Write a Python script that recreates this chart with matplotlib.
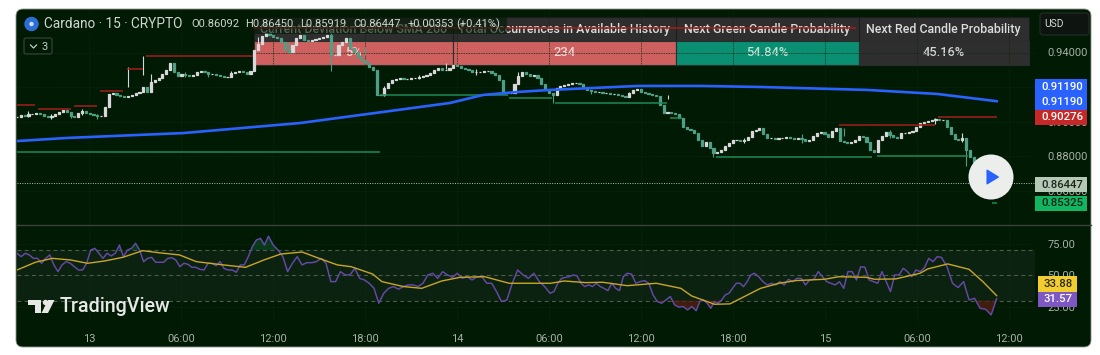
import numpy as np
import matplotlib
matplotlib.use("Agg")
import matplotlib.pyplot as plt
from matplotlib.patches import FancyBboxPatch, Rectangle, Circle, Polygon

plt.rcParams['font.family'] = ['Roboto', 'DejaVu Sans']

W, H = 1100, 355
# ---------- data ----------
closes = [
 .9028,.9039,.9034,.9045,.9045,.9051,.9045,.9034,.9028,.9034,.9045,.9057,.9068,.9057,.9034,.9028,.9051,.9063,
 .9051,.9045,.9039,.9034,.9034,.9086,.9161,.9166,.9155,.9149,.9143,.9149,
 .9155,.9166,.9172,.9201,.9172,.9230,.9241,.9253,.9276,
 .9299,.9339,.9288,.9264,.9276,.9270,.9264,.9270,.9288,.9293,.9288,.9276,.9276,.9270,.9264,.9259,.9259,.9282,.9288,.9293,.9288,.9276,.9293,
 .9414,.9449,.9495,.9513,.9501,.9490,.9484,.9461,.9414,.9403,.9443,.9484,.9501,.9472,.9466,.9472,.9478,.9484,.9490,.9501,.9386,.9386,.9443,.9461,.9484,.9426,.9403,.9374,.9357,.9339,.9316,.9299,.9155,
 .9155,.9195,.9224,.9241,.9247,.9253,.9247,.9247,.9253,.9253,.9259,.9264,.9270,.9282,.9299,.9311,.9299,.9299,.9311,.9328,.9322,.9311,.9305,.9299,.9288,.9288,.9288,.9293,.9293,.9282,.9270,.9241,.9166,
 .9166,.9166,.9218,.9264,.9288,.9276,.9264,.9270,.9253,.9218,.9184,.9166,.9155,.9195,.9207,.9213,.9218,.9224,.9224,.9218,.9201,.9184,.9178,.9172,.9172,.9166,.9166,.9161,.9161,.9155,.9149,.9143,.9166,.9184,.9189,.9172,.9166,.9161,.9155,.9149,.9097,.9051,.9057,.9051,.9045,.9022,.8970,.8959,.8953,.8936,.8895,.8861,
 .8884,.8849,.8820,.8826,.8838,.8861,.8878,.8895,.8895,.8889,.8895,.8913,.8947,.8953,.8964,.8930,.8907,.8907,.8901,.8907,.8907,.8913,.8907,.8901,.8907,.8901,.8889,.8895,.8918,.8936,.8941,.8930,.8913,.8947,.8964,.8889,.8884,.8878,.8884,.8895,.8918,.8913,.8884,.8838,.8826,.8895,.8918,.8941,.8924,.8913,.8907,.8936,.8936,.8941,.8947,.8970,.8993,.8999,.9005,.9011,.9016,.9011,.9011,.8970,.8930,.8901,.8895,.8907,.8838,.8797,.8768,.8745,.8711,.8676,.8630,.8607,.86447,
]
wick_idx = [3, 9, 14, 17, 21, 29, 33, 35, 44, 50, 56, 63, 71, 82, 91, 96, 105, 112, 120, 131, 140, 150, 160, 170, 182, 190, 205, 216, 228, 240, 247, 248, 253]
wick_high = [.9062, .9045, .9051, .9074, .9045, .9316, .9380, .9276, .9288, .9288, .9293, .9490, .9461, .9530, .9432, .9207, .9270, .9340, .9305, .9288, .9166, .9184, .9172, .9155, .8820, .8907, .8930, .8964, .8950, .9022, .8936, .8895, .8700]
wick_low = [.9028, .9016, .9022, .9040, .9016, .9201, .9270, .9230, .9259, .9259, .9264, .9440, .9400, .9293, .9386, .9150, .9247, .9305, .9270, .9260, .9109, .9160, .9150, .9130, .8797, .8880, .8880, .8918, .8905, .8985, .8884, .8745, .85919]

sma_hours = [-4.7, -1.43, 6.13, 13.76, 19.18, 23.55, 25.7, 27.9, 30.07, 35.8, 39.9, 43.8, 50.75, 55.3, 59.2]
sma_values = [.8889, .8907, .8935, .8993, .9057, .9109, .9155, .9172, .9184, .9207, .9207, .9201, .9184, .9161, .9119]

pivot_high = [(-4.7, -3.5, .9097), (-3.3, -1.2, .9074), (-1.0, .5, .9091), (.7, 2.2, .9178),
              (2.5, 3.5, .9305), (3.7, 10.7, .9380), (10.7, 50.0, .9541), (48.9, 55.2, .8979), (55.4, 59.2, .90276)]
pivot_low = [(-4.7, 19.0, .8826), (19.0, 27.3, .9155), (27.4, 30.2, .9138), (30.4, 37.7, .9109),
             (37.9, 38.7, .9022), (40.9, 51.1, .8797), (51.4, 57.3, .8800), (58.9, 59.2, .85325)]

rsi_segments = [
 (-4.7, 1.98, [67.4,64.7,67.4,66.1,63.4,63.4,59.5,63.4,66.1,58.2,52.9,58.2,60.8,59.5,56.8,54.2,54.2,59.5,70,71.3,67.4,63.4,67.4,65.3,67.4,73.9]),
 (1.98, 11.7, [64.7,70,71.3,75.3,70,60.8,63.4,64.2,60.3,60.3,60.3,63.4,63.9,62.1,56.8,59.5,58.7,56.3,56.3,54.7,54.2,59.5,59.5,57.6,60.8,55.3,54.2,54.2,52.4,58.2,58.2,64.7,72.6,77.9,79.2,73.9,80.9]),
 (11.7, 18.9, [73.9,70,64.7,52.9,59.5,64.7,58.2,60,60,60.8,63.4,59.5,45,45,52.9,50.3,50.3,55.5,47.6,46.3,43.7,39.7,27.9]),
 (18.9, 26.9, [35.8,39.7,41.1,39,41.1,42.4,42.4,41.1,43.7,50.3,51.6,47.6,52.9,50.3,48.4,51.6,47.6,48.9,46.3,48.9,48.9,43.7,43.7,37.1,29.2]),
 (26.9, 30.07, [30.5,43.7,54.2,50.3,47.6,51.6,45,41.1,35.8]),
 (30.07, 35.1, [37.1,43.7,47.6,48.4,48.9,50.3,49.5,43.7,41.1,42.4,41.1,43.7,41.1,39.7,37.9,43.7,39.7,37.9,48.9,51.6]),
 (35.1, 39.6, [51,43.7,45,45.8,43.7,34.5,29.2,27.9,30.5,33.2,26.6,24.8,25.3,22.6,25.3,22]),
 (39.6, 43.4, [29.2,30.5,27.9,23.9,29.2,27.9,30.5,34.5,35.8,39.7,43.7,43.7,41.1,45,50.3,51.6]),
 (43.4, 55.6, [48.9,45,42.4,43.7,42.4,45,42.4,46.8,45,47.6,47.6,42.4,46.3,46.8,52.9,48.9,45,43.7,42.4,45,39.7,52.9,52.9,46.3,56.8,56.3,46.3,45,43.7,52.9,45,37.1,50.3,50.3,55.5,52.9,48.9,54.2,52.9,56,63.4,60.8,64.7,64.2]),
 (55.6, 59.2, [56.8,43.7,40.3,45,30.5,31.8,23.9,23.1,18.7,31.57]),
]
ma_hours = [-4.7,-3.5,-2.4,-1.2,-.1,1,2.2,3.5,4.5,5.9,7,8.4,10.2,11.4,12.5,13.9,15,16.2,17.1,18.5,19.1,20.5,21.7,23,24.2,25.8,27.4,29.2,
            30.1,31,32.4,33.5,35.1,37,38.6,39.3,40.8,41.8,43.8,45,46.1,48,48.9,50.7,51.2,52.6,54.2,54.7,56,57.4,58.3,59.2]
ma_values = [54.2,60.3,63.4,62.1,59.5,61.3,64.2,69.5,67.9,66.1,60.8,58.7,56.3,62.1,66.8,68.4,63.4,58.2,56.8,51,45,41.1,39.7,45.5,48.4,48.9,43.7,43.7,
             43.7,45.5,44.2,44.5,41.8,43.7,39.7,33.7,27.1,27.4,39.7,43.7,45.8,46.9,48.9,48.4,46.9,47.1,51.6,55,59,54.7,45,33.88]

time_ticks = [0, 6, 12, 18, 24, 30, 36, 42, 48, 54, 60]
time_labels = ['13', '06:00', '12:00', '18:00', '14', '06:00', '12:00', '18:00', '15', '06:00', '12:00']
price_ticks = [.86, .88, .90, .92, .94]
rsi_ticks = [25, 50, 75]
table_headers = ['Current Deviation Below SMA 200', 'Total Occurrences in Available History',
                 'Next Green Candle Probability', 'Next Red Candle Probability']
table_values = ['5%', '234', '54.84%', '45.16%']
ohlc_labels = ['O0.86092', 'H0.86450', 'L0.85919', 'C0.86447', '+0.00353', '(+0.41%)']

# ---------- colours ----------
BG = '#011a04'; GRID = '#0b2a10'; TXT = '#a8b0a8'
UP = '#d8d8d8'; DOWN = '#4f9f85'
RED = '#a51d1d'; GREEN = '#1d8a55'; BLUE = '#2962ff'

fig = plt.figure(figsize=(W/100, H/100), dpi=100, facecolor='white')

def px_axes(x0, y0, x1, y1):
    return fig.add_axes([x0/W, 1-y1/H, (x1-x0)/W, (y1-y0)/H])

bg = fig.add_axes([0, 0, 1, 1]); bg.set_xlim(0, W); bg.set_ylim(H, 0); bg.axis('off')
bg.add_patch(FancyBboxPatch((20, 13), 1067, 330, boxstyle='round,pad=4,rounding_size=7',
                            fc=BG, ec='#8a948a', lw=0.6))
# table
cols = [253.5, 453, 675.5, 858.5, 1029]
row_y = [17, 41, 65]
fills = ['#cf6060', '#cf6060', '#0a8f73', '#2e2e2e']
vcol = ['#f3d6d6', '#f3d6d6', '#b9e2d4', '#d4d4d4']
for i in range(4):
    bg.add_patch(Rectangle((cols[i], row_y[0]), cols[i+1]-cols[i], 24, fc='#2e2e2e', ec='#1c1c1c', lw=0.8))
    bg.add_patch(Rectangle((cols[i], row_y[1]), cols[i+1]-cols[i], 24, fc=fills[i], ec='#26302a', lw=0.8))
    xc = (cols[i]+cols[i+1])/2
    bg.text(xc, 29.5, table_headers[i], ha='center', va='center', fontsize=8.9, color='#dcdcdc', fontweight='medium')
    bg.text(xc, 53, table_values[i], ha='center', va='center', fontsize=9.3, color=vcol[i], fontweight='medium')

# ---------- price pane ----------
ax = px_axes(17, 10, 1035, 225)
ax.patch.set_alpha(0); ax.set_zorder(1)
ax.set_xlim(-4.7, 61.7)
ax.set_ylim(.94-(225-52.5)/1733, .94+(52.5-10)/1733)
c = np.array(closes)
t = np.linspace(-4.7, 59.2, len(c))
o = np.r_[c[0], c[:-1]]
up = c >= o
for hi, lo, k in zip(wick_high, wick_low, wick_idx):
    ax.vlines(t[k], lo, hi, color=UP if up[k] else DOWN, lw=0.8, zorder=3)
ax.bar(t[up], (c-o)[up], bottom=o[up], width=.14, color=UP, ec=UP, lw=.9, zorder=4)
ax.bar(t[~up], (o-c)[~up], bottom=c[~up], width=.14, color=DOWN, ec=DOWN, lw=.9, zorder=4)
for a, b, p in pivot_high:
    ax.plot([a, b], [p, p], color=RED, lw=1.1, zorder=5, solid_capstyle='butt')
for a, b, p in pivot_low:
    ax.plot([a, b], [p, p], color=GREEN, lw=1.1, zorder=5, solid_capstyle='butt')
ax.plot(sma_hours, sma_values, color=BLUE, lw=1.9, zorder=6)
ax.axhline(closes[-1], color='#b5bdb5', lw=0.7, ls=(0, (1, 1.5)), zorder=2)
ax.set_yticks(price_ticks); ax.set_yticklabels([f'{v:.5f}' for v in price_ticks])
ax.yaxis.tick_right()
ax.set_xticks(time_ticks); ax.tick_params(axis='x', labelbottom=False, length=0)
ax.tick_params(axis='y', length=0, pad=9, labelsize=8, labelcolor=TXT)
ax.grid(True, color=GRID, lw=0.6, ls=(0, (1, 1)))
ax.set_axisbelow(True)
for s in ax.spines.values():
    s.set_visible(False)

# ---------- RSI pane ----------
rx = px_axes(17, 226, 1035, 323)
rx.patch.set_alpha(0); rx.set_zorder(1)
rx.set_xlim(-4.7, 61.7)
rx.set_ylim(70-(323-250)/1.265, 70+(250-226)/1.265)
rx.axhspan(30, 70, color='#1c2f22', alpha=.42, lw=0, zorder=1)
for lv in (70, 50, 30):
    rx.axhline(lv, color='#4d5a50', lw=0.8, ls=(0, (3.5, 3)), zorder=2)
rt, rv = [], []
for k, (a, b, vals) in enumerate(rsi_segments):
    s = np.linspace(a, b, len(vals)+1)[1:] if k else np.linspace(a, b, len(vals))
    rt.extend(s); rv.extend(vals)
rt = np.array(rt); rv = np.array(rv)
rx.fill_between(rt, rv, 30, where=rv < 30, color='#5a1f14', alpha=.7, lw=0, interpolate=True, zorder=2)
rx.fill_between(rt, rv, 70, where=rv > 70, color='#0f5a30', alpha=.5, lw=0, interpolate=True, zorder=2)
rx.plot(rt, rv, color='#6549a8', lw=1.05, zorder=3)
rx.plot(ma_hours, ma_values, color='#c9a628', lw=1.0, zorder=4)
rx.set_xticks(time_ticks); rx.set_xticklabels(time_labels)
rx.set_yticks(rsi_ticks); rx.set_yticklabels([f'{v:.2f}' for v in rsi_ticks])
rx.yaxis.tick_right()
rx.tick_params(axis='y', length=0, pad=9, labelsize=8, labelcolor=TXT)
rx.tick_params(axis='x', length=0, pad=8, labelsize=8, labelcolor=TXT)
rx.grid(True, color=GRID, lw=0.6, ls=(0, (1, 1)))
rx.set_axisbelow(True)
for s in rx.spines.values():
    s.set_visible(False)

# ---------- overlay ----------
top = fig.add_axes([0, 0, 1, 1]); top.set_xlim(0, W); top.set_ylim(H, 0); top.axis('off')
top.patch.set_alpha(0); top.set_zorder(3)
top.plot([17, 1091], [225, 225], color='#3a423c', lw=1)
top.add_patch(Rectangle((17, 15), 490, 19, fc=BG, alpha=.62, lw=0))
top.add_patch(Circle((31.5, 24), 7.2, fc='#2b6fd6', ec='none'))
top.add_patch(Circle((31.5, 24), 2.2, fc='#cfe0fa', ec='none'))
top.text(44, 24, 'Cardano · 15 · CRYPTO', va='center', fontsize=9.8, color='#d0d6d0')
for xp, s in zip([191, 245, 300, 353, 408, 456], ohlc_labels):
    top.text(xp, 24, s, va='center', fontsize=8, color='#d0d6d0')
top.add_patch(FancyBboxPatch((26, 40), 24, 12, boxstyle='round,pad=2,rounding_size=2', fc='none', ec='#3c463e', lw=.8))
top.plot([30.5, 33.5, 36.5], [45, 48, 45], color='#c4ccc4', lw=.9)
top.text(41, 46.5, '3', va='center', fontsize=8, color='#c4ccc4')

# USD box
top.add_patch(FancyBboxPatch((1042, 15), 45, 18, boxstyle='round,pad=2,rounding_size=3', fc='#0e1410', ec='#262d28', lw=.8))
top.text(1044, 24, 'USD', va='center', fontsize=7.4, color='#d8dcd8')

def tag(y0, y1, s, fc, tc, x0=1035, x1=1087):
    top.add_patch(Rectangle((x0, y0), x1-x0, y1-y0, fc=fc, lw=0))
    top.text((x0+x1)/2+1, (y0+y1)/2, s, ha='center', va='center', fontsize=8.2, color=tc, fontweight='medium')

tag(79, 95, '0.91190', BLUE, 'white')
tag(94, 110, '0.91190', BLUE, 'white')
tag(110, 125, '0.90276', '#c62828', 'white')
tag(177, 192, '0.86447', '#b5cab6', '#1c241d')
tag(196, 211, '0.85325', '#12b561', '#0a2414')
tag(276, 292, '33.88', '#f2cd2f', '#2a2a10', 1038, 1077)
tag(292, 307, '31.57', '#7e57c2', 'white', 1038, 1077)

# play button
top.add_patch(Circle((991, 177), 22.5, fc='#eceeec', ec='none'))
top.add_patch(Polygon([(987, 170), (987, 184), (998.5, 177)], closed=True, fc=BLUE, ec=BLUE, lw=.8))

# TradingView logo
wm = '#e6e8e6'
top.add_patch(Polygon([(27.5, 300), (41, 300), (41, 313), (35, 313), (35, 305), (27.5, 305)], closed=True, fc=wm, lw=0))
top.add_patch(Circle((45.5, 302.5), 2.7, fc=wm, lw=0))
top.add_patch(Polygon([(48, 300), (54.5, 300), (48, 313), (41.5, 313)], closed=True, fc=wm, lw=0))
top.text(60, 307, 'TradingView', va='center', fontsize=14.2, color=wm, fontweight='medium')

fig.savefig('out.png', dpi=100, facecolor='white')
